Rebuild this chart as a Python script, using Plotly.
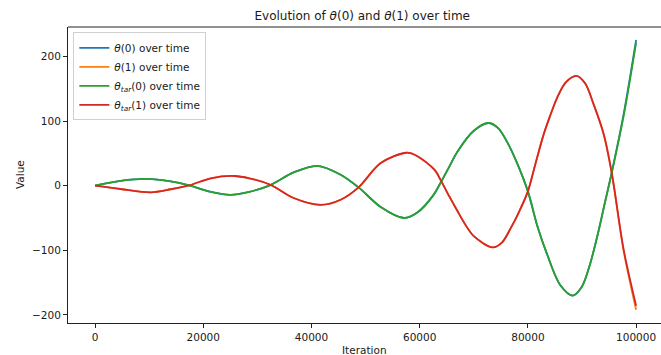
import plotly.graph_objects as go

# Iterations
iter_tar0 = [0, 4700, 9600, 14000, 17400, 21400, 25000, 28500, 32400, 36700, 41100, 45400,
             48700, 52800, 57100, 59500, 62500, 64000, 65500, 67000, 70000, 72700, 74500, 76200,
             78000, 80000, 81800, 83500, 86000, 88300, 90000, 91500, 93000, 94200, 95500,
             97700, 100000]
theta_tar0 = [0, 7.5, 10.5, 6.7, 0.5, -9.5, -14.2, -9.5, 1, 20.5, 30.8, 17,
              -2.6, -33, -50, -42, -15, 6.7, 30, 53, 85, 97, 89, 67,
              35, -8.8, -64, -105, -154, -170, -156, -121, -72, -28, 19.6,
              108, 221]
theta0 = [0, 7.5, 10.5, 6.7, 0.5, -9.5, -14.2, -9.5, 1, 20.5, 30.8, 17,
          -2.6, -33, -50, -42, -15, 6.7, 30, 53, 85, 97, 89, 67,
          35, -8.8, -64, -105, -154, -170, -156, -121, -72, -27, 21,
          111, 225.5]

iter_tar1 = [0, 4700, 10300, 14000, 17400, 21400, 25700, 28500, 32400, 36700, 41700, 45400,
             48700, 52800, 57600, 59500, 62800, 64000, 65500, 66900, 68500, 70000, 73500, 75200,
             76800, 78500, 80000, 81400, 82900, 84100, 85400, 87000, 89000, 90600, 92100, 94000,
             95500, 97700, 100000]
theta_tar1 = [0, -5.1, -10.3, -5.5, 0.5, 11.5, 15, 11.5, 1.5, -19, -29.6, -21.7,
              -2.6, 35, 51, 46, 24, 6.7, -17, -38, -61, -78, -95.5, -88,
              -66, -38, -8.8, 34, 79, 108, 136, 160, 170, 158, 127, 80,
              19.6, -99, -185.6]
theta1 = [0, -5.1, -10.3, -5.5, 0.5, 11.5, 15, 11.5, 1.5, -19, -29.6, -21.7,
          -2.6, 35, 51, 46, 24, 6.7, -17, -38, -61, -78, -95.5, -88,
          -66, -38, -8.8, 34, 79, 108, 136, 160, 170, 158, 127, 80,
          19.6, -101, -192]

x_ticks = [0, 20000, 40000, 60000, 80000, 100000]
y_ticks = [-200, -100, 0, 100, 200]
y_tick_text = ["\u2212200", "\u2212100", "0", "100", "200"]

FONT = "DejaVu Sans"
LW = 1.8

fig = go.Figure()
fig.add_trace(go.Scatter(x=iter_tar0, y=theta0, mode="lines",
                         line=dict(color="#1f77b4", width=LW, shape="spline", smoothing=0.9),
                         name="<i>θ</i>(0) over time"))
fig.add_trace(go.Scatter(x=iter_tar1, y=theta1, mode="lines",
                         line=dict(color="#ff7f0e", width=LW, shape="spline", smoothing=0.9),
                         name="<i>θ</i>(1) over time"))
fig.add_trace(go.Scatter(x=iter_tar0, y=theta_tar0, mode="lines",
                         line=dict(color="#2ca02c", width=LW, shape="spline", smoothing=0.9),
                         name="<i>θ</i><sub><i>tar</i></sub>(0) over time"))
fig.add_trace(go.Scatter(x=iter_tar1, y=theta_tar1, mode="lines",
                         line=dict(color="#d62728", width=LW, shape="spline", smoothing=0.9),
                         name="<i>θ</i><sub><i>tar</i></sub>(1) over time"))

fig.update_layout(
    width=661, height=355,
    margin=dict(l=68, r=0, t=27, b=32, pad=0),
    paper_bgcolor="white", plot_bgcolor="white",
    font=dict(family=FONT, size=10.5, color="#1a1a1a"),
    title=dict(text="Evolution of <i>θ</i>(0) and <i>θ</i>(1) over time", x=0.548, xanchor="center",
               y=1 - 16 / 355, yanchor="middle", font=dict(family=FONT, size=12, color="#1a1a1a")),
    showlegend=True,
    legend=dict(x=0.009, y=0.982, xanchor="left", yanchor="top", bgcolor="rgba(255,255,255,0.8)",
                bordercolor="#d0d0d0", borderwidth=1, font=dict(family=FONT, size=10.5, color="#1a1a1a"),
                itemwidth=30, tracegroupgap=0),
    xaxis=dict(range=[-5000, 104600], tickmode="array", tickvals=x_ticks, ticktext=[str(v) for v in x_ticks],
               showgrid=False, zeroline=False, showline=True, linecolor="#222", linewidth=1,
               ticks="outside", ticklen=4, tickcolor="#222", tickwidth=1, mirror=False),
    yaxis=dict(range=[-212.4, 245.5], tickmode="array", tickvals=y_ticks, ticktext=y_tick_text,
               showgrid=False, zeroline=False, showline=True, linecolor="#222", linewidth=1,
               ticks="outside", ticklen=4, tickcolor="#222", tickwidth=1),
    shapes=[dict(type="line", xref="paper", yref="paper", x0=0, x1=1, y0=1, y1=1,
                 line=dict(color="#222", width=1))],
    annotations=[
        dict(text="Iteration", xref="paper", yref="paper", x=0.5, y=0, xanchor="center", yanchor="top",
             yshift=-19, showarrow=False, font=dict(family=FONT, size=10.5, color="#1a1a1a")),
        dict(text="Value", xref="paper", yref="paper", x=0, y=0.5, xanchor="center", yanchor="middle",
             xshift=-48, textangle=-90, showarrow=False, font=dict(family=FONT, size=10.5, color="#1a1a1a")),
    ],
)

fig.write_html("out.html", config={"displayModeBar": False},
               post_script="document.body.style.margin='0';document.body.style.overflow='hidden';")
